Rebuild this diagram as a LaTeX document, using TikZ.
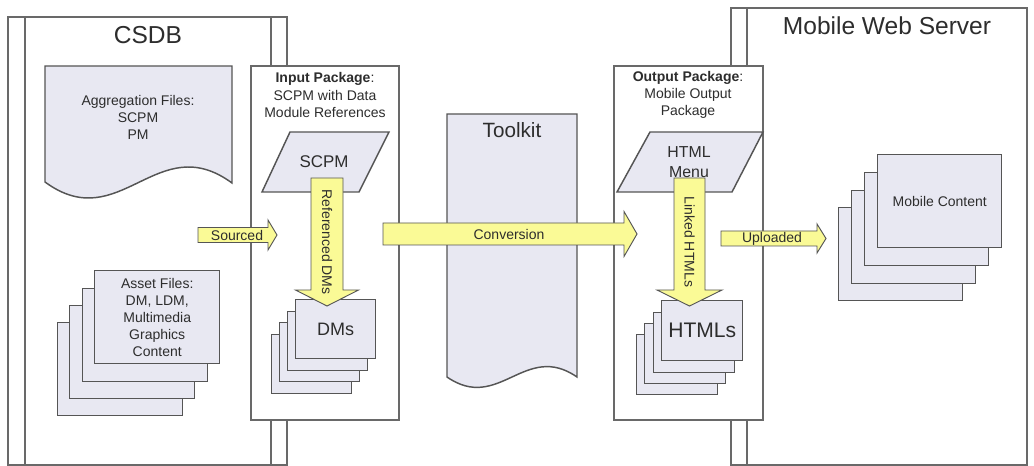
\documentclass[tikz,border=0pt]{standalone}
\usepackage{fontspec}
\setmainfont{Liberation Sans}
\definecolor{shapefill}{RGB}{232,232,242}
\definecolor{edge}{RGB}{85,85,85}
\definecolor{boxedge}{RGB}{105,105,105}
\definecolor{yel}{RGB}{250,250,150}
\definecolor{txt}{RGB}{45,45,45}
\newcommand{\hblock}[6]{\path[yarrow] (#1,{#3-#4}) -- ({#2-#6},{#3-#4}) -- ({#2-#6},{#3-#5}) -- (#2,#3) -- ({#2-#6},{#3+#5}) -- ({#2-#6},{#3+#4}) -- (#1,{#3+#4}) -- cycle;}
\newcommand{\vblock}[6]{\path[yarrow] ({#1-#4},#2) -- ({#1-#4},{#3-#6}) -- ({#1-#5},{#3-#6}) -- (#1,#3) -- ({#1+#5},{#3-#6}) -- ({#1+#4},{#3-#6}) -- ({#1+#4},#2) -- cycle;}
\begin{document}
\begin{tikzpicture}[x=0.75pt,y=-0.75pt,
  container/.style={draw=boxedge, line width=1.1pt, fill=white},
  shapebox/.style={draw=edge, line width=1.1pt, fill=shapefill},
  stackbox/.style={shapebox, anchor=north west, inner sep=0pt},
  yarrow/.style={draw=edge, line width=0.7pt, fill=yel},
  small/.style={font=\fontsize{10.5}{12.75}\selectfont, text=txt, align=center, inner sep=0pt},
  lab/.style={font=\fontsize{10.5}{12.75}\selectfont, text=txt, inner sep=0pt},
  title/.style={font=\fontsize{18.4}{22}\selectfont, text=txt, inner sep=0pt}]
\useasboundingbox (0,0) rectangle (1034,466);

% containers
\path[container] (8,17) rectangle (287,465);
\draw[boxedge, line width=1.1pt] (25,17) -- (25,465) (271,17) -- (271,465);
\path[container] (731,8) rectangle (1027,465);
\draw[boxedge, line width=1.1pt] (747,8) -- (747,465);
\node[title] (csdbT) at (148,35) {CSDB};
\node[title] (mwsT) at (887,26) {Mobile Web Server};

% aggregation document
\path[shapebox] (45,66) -- (232,66) -- (232,183) .. controls (157,128) and (120,237) .. (45,182) -- cycle;
\node[small] (aggT) at (138,117) {Aggregation Files:\\SCPM\\PM};

% asset stack
\node[stackbox, minimum width=93.75pt, minimum height=69.75pt] (as4) at (57,322) {};
\node[stackbox, minimum width=93.75pt, minimum height=69.75pt] (as3) at (69,305) {};
\node[stackbox, minimum width=93.75pt, minimum height=69.75pt] (as2) at (82,288) {};
\node[stackbox, minimum width=93.75pt, minimum height=69.75pt] (as1) at (94,270) {};
\node[small] (asT) at (as1.center) {Asset Files:\\DM, LDM,\\Multimedia\\Graphics\\Content};

% input package
\path[container] (251,66) rectangle (399,420);
\node[small] (inT) at (325,95) {\textbf{Input Package}:\\SCPM with Data\\Module References};
\path[shapebox] (262,192) -- (290,132) -- (389,132) -- (359,192) -- cycle;
\node[font=\fontsize{12.7}{15}\selectfont, text=txt, inner sep=0pt] (scpm) at (324,162) {SCPM};
\node[stackbox, minimum width=60pt, minimum height=44.25pt] (dm4) at (271,334) {};
\node[stackbox, minimum width=60pt, minimum height=44.25pt] (dm3) at (279,322) {};
\node[stackbox, minimum width=60pt, minimum height=44.25pt] (dm2) at (287,311) {};
\node[stackbox, minimum width=60pt, minimum height=44.25pt] (dm1) at (295,299) {};
\node[font=\fontsize{13.5}{16}\selectfont, text=txt, inner sep=0pt] (dmT) at (dm1.center) {DMs};
\vblock{327}{178}{306}{16}{31.5}{16}
\node[lab, rotate=-90] (refL) at (327,242) {Referenced DMs};

% toolkit
\path[shapebox] (447,114) -- (577,114) -- (577,377) .. controls (525,341) and (499,413) .. (447,377) -- cycle;
\node[font=\fontsize{15.5}{18}\selectfont, text=txt, inner sep=0pt] (toolT) at (512,130) {Toolkit};

% output package
\path[container] (614,66) rectangle (763,420);
\node[small] (outT) at (688,95) {\textbf{Output Package}:\\Mobile Output\\Package};
\path[shapebox] (617,192) -- (650,132) -- (763,132) -- (732,192) -- cycle;
\node[font=\fontsize{11.9}{15}\selectfont, text=txt, inner sep=0pt, align=center] (menu) at (689,162) {HTML\\Menu};
\node[stackbox, minimum width=60.75pt, minimum height=45pt] (ht4) at (636,334) {};
\node[stackbox, minimum width=60.75pt, minimum height=45pt] (ht3) at (644,323) {};
\node[stackbox, minimum width=60.75pt, minimum height=45pt] (ht2) at (653,312) {};
\node[stackbox, minimum width=60.75pt, minimum height=45pt] (ht1) at (661,300) {};
\node[font=\fontsize{15.8}{18}\selectfont, text=txt, inner sep=0pt] (htT) at (ht1.center) {HTMLs};
\vblock{689.5}{178}{306}{15.5}{32.5}{16}
\node[lab, rotate=-90] (linkL) at (689.5,242) {Linked HTMLs};

% mobile content stack
\node[stackbox, minimum width=93pt, minimum height=69.75pt] (mc4) at (838,207) {};
\node[stackbox, minimum width=93pt, minimum height=69.75pt] (mc3) at (851,190) {};
\node[stackbox, minimum width=93pt, minimum height=69.75pt] (mc2) at (864,172) {};
\node[stackbox, minimum width=93pt, minimum height=69.75pt] (mc1) at (877,154) {};
\node[small] (mcT) at (mc1.center) {Mobile Content};

% horizontal block arrows
\hblock{198}{277}{235}{7.5}{15}{9}
\node[lab] (srcL) at (237,235) {Sourced};
\hblock{383}{637}{234}{11}{22.5}{13}
\node[lab] (convL) at (509,234) {Conversion};
\hblock{721}{826}{238.5}{7.5}{14.5}{9}
\node[lab] (uplL) at (772,238.5) {Uploaded};
\end{tikzpicture}
\end{document}
